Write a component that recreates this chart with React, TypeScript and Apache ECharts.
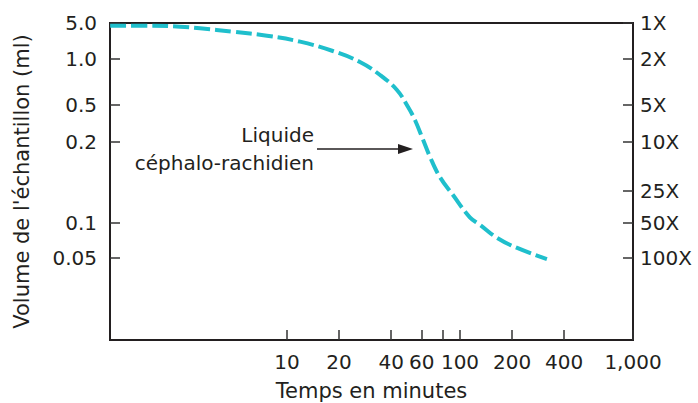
import React, { useEffect, useRef } from "react";
import * as echarts from "echarts";

// Curve: time (minutes) vs sample volume (ml)
const timeMin = [0.95, 1.62, 2.41, 3.14, 4.87, 7.66, 11.9, 18.4, 26.4, 34.5, 43.2, 50.1, 54.9, 60.3, 67.1, 76.6, 91.1, 114, 131, 164, 214, 318];
const volumeMl = [4.43, 4.43, 4.24, 3.95, 3.39, 2.83, 2.17, 1.43, 0.956, 0.786, 0.627, 0.476, 0.345, 0.226, 0.176, 0.148, 0.127, 0.105, 0.0961, 0.0743, 0.061, 0.049];

// Hand-drawn vertical scale: labelled volumes and their place on the axis (0 = bottom)
const yKnotVolumes = [5.0, 1.0, 0.5, 0.2, 0.1, 0.05];
const yKnotPos = [317, 281, 235, 198, 117, 82];
const yTickLabels = ["5.0", "1.0", "0.5", "0.2", "0.1", "0.05"];
const yAxisMax = 317;

// Right axis: dilution labels, aligned to volumes of the left scale
const rightTickLabels = ["1X", "2X", "5X", "10X", "25X", "50X", "100X"];
const rightTickVolumes = [5.0, 1.0, 0.5, 0.2, 0.1315, 0.1, 0.05];

// X axis (log of minutes)
const xTickMinutes = [10, 20, 40, 60, 80, 100, 200, 400, 1000];
const xLabelMinutes = [10, 20, 40, 60, 100, 200, 400, 1000];
const xMinMinutes = 0.948;
const xMaxMinutes = 1000;

const FONT = "DejaVu Sans";
const INK = "#231f20";
const CURVE = "#1fbfcc";

function volToPos(v: number): number {
  const lv = Math.log10(v);
  let i = 0;
  while (i < yKnotVolumes.length - 2 && v < yKnotVolumes[i + 1]) i++;
  const l1 = Math.log10(yKnotVolumes[i]);
  const l2 = Math.log10(yKnotVolumes[i + 1]);
  const f = (lv - l1) / (l2 - l1);
  return yKnotPos[i] + f * (yKnotPos[i + 1] - yKnotPos[i]);
}

function fmtMinutes(v: number): string {
  const m = Math.round(Math.pow(10, v));
  return m.toLocaleString("en-US");
}

export default function App() {
  const ref = useRef<HTMLDivElement>(null);
  useEffect(() => {
    if (!ref.current) return;
    const chart = echarts.init(ref.current, undefined, { renderer: "svg" });
    const data = timeMin.map((t, i) => [Math.log10(t), volToPos(volumeMl[i])]);
    const leftPos = yKnotVolumes.map(volToPos);
    const rightPos = rightTickVolumes.map(volToPos);
    const findLabel = (v: number, pos: number[], labels: string[]) => {
      let best = 0;
      for (let i = 0; i < pos.length; i++) if (Math.abs(pos[i] - v) < Math.abs(pos[best] - v)) best = i;
      return labels[best];
    };
    const tickStyle = { show: true, inside: true, length: 10, lineStyle: { color: "#333", width: 1.5 } };
    const axisLine = { show: true, onZero: false, lineStyle: { color: INK, width: 2 } };
    chart.setOption({
      animation: false,
      textStyle: { fontFamily: FONT },
      grid: {
        left: 110,
        right: 65,
        top: 23,
        bottom: 63,
        containLabel: false,
        outerBoundsMode: "none",
        show: true,
        borderColor: INK,
        borderWidth: 2,
      },
      xAxis: {
        type: "value",
        min: Math.log10(xMinMinutes),
        max: Math.log10(xMaxMinutes),
        name: "Temps en minutes",
        nameLocation: "middle",
        nameGap: 40,
        nameTextStyle: { fontFamily: FONT, fontSize: 21, color: INK },
        axisLine,
        axisTick: { ...tickStyle, customValues: xTickMinutes.map((m) => Math.log10(m)) },
        axisLabel: {
          customValues: xLabelMinutes.map((m) => Math.log10(m)),
          formatter: (v: number) => fmtMinutes(v),
          fontFamily: FONT,
          fontSize: 20,
          color: INK,
          margin: 12,
        },
        splitLine: { show: false },
      },
      yAxis: [
        {
          type: "value",
          min: 0,
          max: yAxisMax,
          position: "left",
          name: "Volume de l'échantillon (ml)",
          nameLocation: "middle",
          nameGap: 78,
          nameTextStyle: { fontFamily: FONT, fontSize: 21, color: INK },
          axisLine,
          axisTick: { ...tickStyle, customValues: leftPos },
          axisLabel: {
            customValues: leftPos,
            formatter: (v: number) => findLabel(v, leftPos, yTickLabels),
            fontFamily: FONT,
            fontSize: 20,
            color: INK,
            margin: 13,
          },
          splitLine: { show: false },
        },
        {
          type: "value",
          min: 0,
          max: yAxisMax,
          position: "right",
          axisLine,
          axisTick: { ...tickStyle, customValues: rightPos },
          axisLabel: {
            customValues: rightPos,
            formatter: (v: number) => findLabel(v, rightPos, rightTickLabels),
            fontFamily: FONT,
            fontSize: 20,
            color: INK,
            margin: 7,
          },
          splitLine: { show: false },
        },
      ],
      series: [
        {
          type: "line",
          data,
          smooth: 0.4,
          showSymbol: false,
          symbol: "none",
          lineStyle: { color: CURVE, width: 4, type: [16, 5] },
        },
      ],
      graphic: [
        {
          type: "text",
          x: 314,
          y: 135,
          style: { text: "Liquide", font: `20px '${FONT}'`, fill: INK, align: "right", verticalAlign: "middle" },
        },
        {
          type: "text",
          x: 314,
          y: 163,
          style: { text: "céphalo-rachidien", font: `20px '${FONT}'`, fill: INK, align: "right", verticalAlign: "middle" },
        },
        {
          type: "line",
          shape: { x1: 317, y1: 149, x2: 402, y2: 149 },
          style: { stroke: INK, lineWidth: 1.5 },
        },
        {
          type: "polygon",
          shape: { points: [[413, 149], [398, 144], [398, 154]] },
          style: { fill: INK },
        },
      ],
    });
    return () => chart.dispose();
  }, []);
  return <div ref={ref} style={{ position: "absolute", left: 0, top: 0, width: 698, height: 403 }} />;
}
